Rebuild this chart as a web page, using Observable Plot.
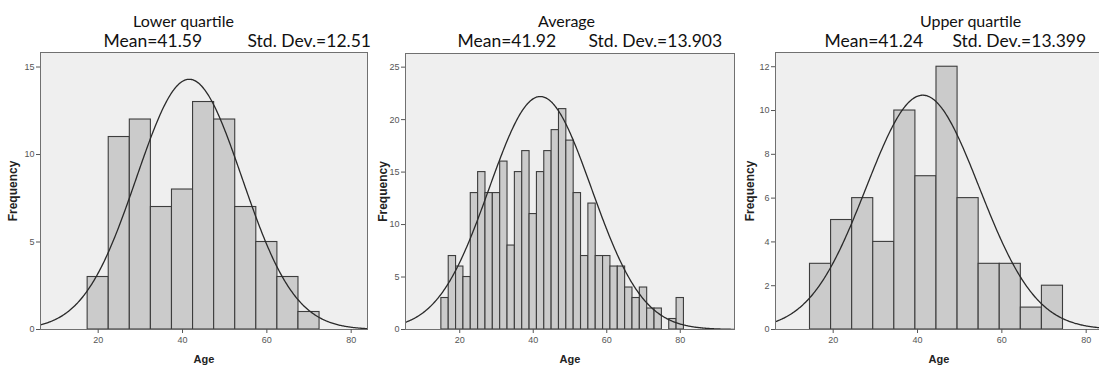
<!DOCTYPE html>
<html>
<head>
<meta charset="utf-8">
<script src="https://cdn.jsdelivr.net/npm/d3@7"></script>
<script src="https://cdn.jsdelivr.net/npm/@observablehq/plot@0.6"></script>
<style>
  html, body { margin: 0; padding: 0; background: #ffffff; }
  #page { position: relative; width: 1099px; height: 371px; overflow: hidden; background: #ffffff; }
  .panel { position: absolute; top: 0; }
  .panel svg { max-width: none !important; }
</style>
</head>
<body>
<div id="page"></div>
<script>
// Three age histograms with fitted normal curves.
const panelTitles = ["Lower quartile", "Average", "Upper quartile"];
const means = [41.59, 41.92, 41.24];
const stdDevs = [12.51, 13.903, 13.399];

// Frequencies per age bin
const lowerCounts = [3, 11, 12, 7, 8, 13, 12, 7, 5, 3, 1];
const averageCounts = [3, 7, 6, 5, 13, 15, 13, 13, 16, 8, 15, 17, 11, 15, 17, 19, 21,
                       18, 13, 7, 12, 7, 7, 6, 6, 4, 3, 4, 2, 2, 0, 1, 3];
const upperCounts = [3, 5, 6, 4, 10, 7, 12, 6, 3, 3, 1, 2];

// First bin edge and bin width for each histogram
const binStarts = [17.5, 15, 14.5];
const binWidths = [5, 2, 5];

// Height of the fitted normal curve at its peak
const curvePeaks = [14.3, 22.2, 10.7];

// Axis ticks and extents
const xTicks = [20, 40, 60, 80];
const lowerYTicks = [0, 5, 10, 15];
const averageYTicks = [0, 5, 10, 15, 20, 25];
const upperYTicks = [0, 2, 4, 6, 8, 10, 12];
const xDomains = [[6.32, 83.87], [5.24, 94.76], [6.32, 83.87]];
const yMaxes = [15.83, 26.3, 12.65];

const counts = [lowerCounts, averageCounts, upperCounts];
const yTicks = [lowerYTicks, averageYTicks, upperYTicks];

// Layout of each panel on the page
const layout = [
  {left: 0,   width: 370, marginLeft: 40, marginRight: 3, marginTop: 52, titleX: 183, meanX: 103, sdX: 247},
  {left: 370, width: 367, marginLeft: 35, marginRight: 3, marginTop: 53, titleX: 196, meanX: 87,  sdX: 218},
  {left: 737, width: 370, marginLeft: 38, marginRight: 5, marginTop: 52, titleX: 233, meanX: 87,  sdX: 215}
];

const titleFont = "Lato, 'Open Sans', sans-serif";
const axisFont = "'Liberation Sans', Arial, sans-serif";

function panel(i) {
  const L = layout[i];
  const [xmin, xmax] = xDomains[i];
  const bins = counts[i]
    .map((n, k) => ({x1: binStarts[i] + k * binWidths[i], x2: binStarts[i] + (k + 1) * binWidths[i], n}))
    .filter(d => d.n > 0);
  const mean = means[i], sd = stdDevs[i], peak = curvePeaks[i];
  const curve = d3.range(xmin, xmax + 0.001, 0.2)
    .map(x => ({x, y: peak * Math.exp(-0.5 * ((x - mean) / sd) ** 2)}));
  const H = 371, marginBottom = 42;
  const textTop = (x, y) => ({frameAnchor: "top-left", dx: x - L.marginLeft, dy: y - L.marginTop});

  return Plot.plot({
    width: L.width,
    height: H,
    marginLeft: L.marginLeft,
    marginRight: L.marginRight,
    marginTop: L.marginTop,
    marginBottom,
    style: {background: "transparent", overflow: "visible", fontFamily: axisFont, maxWidth: "none"},
    x: {domain: [xmin, xmax]},
    y: {domain: [0, yMaxes[i]]},
    marks: [
      Plot.frame({fill: "#efefef", stroke: null}),
      Plot.rectY(bins, {x1: "x1", x2: "x2", y: "n", inset: 0, fill: "#cbcbcb", stroke: "#3d3d3d", strokeWidth: 1.1}),
      Plot.line(curve, {x: "x", y: "y", stroke: "#2a2a2a", strokeWidth: 1.3, clip: true}),
      Plot.frame({stroke: "#707070", strokeWidth: 1}),
      Plot.axisX({ticks: xTicks, tickSize: 4, tickPadding: 3, fontSize: 9, color: "#555", label: null}),
      Plot.axisY({ticks: yTicks[i], tickSize: 4, tickPadding: 2, fontSize: 9, color: "#555", label: null}),
      // Axis titles
      Plot.text(["Age"], {frameAnchor: "bottom", dy: 30, lineAnchor: "middle", fontSize: 11, fontWeight: "bold", fill: "#222"}),
      Plot.text(["Frequency"], {frameAnchor: "left", dx: -(L.marginLeft - 13), rotate: -90, lineAnchor: "middle", textAnchor: "middle", fontSize: 12, fontWeight: "bold", fill: "#222"}),
      // Panel title and summary statistics
      Plot.text([panelTitles[i]], {...textTop(L.titleX, 26), textAnchor: "middle", lineAnchor: "bottom", fontSize: 16, fontFamily: titleFont, fill: "#111"}),
      Plot.text([`Mean=${mean}`], {...textTop(L.meanX, 46), textAnchor: "start", lineAnchor: "bottom", fontSize: 17.5, fontFamily: titleFont, fill: "#111"}),
      Plot.text([`Std. Dev.=${sd}`], {...textTop(L.sdX, 46), textAnchor: "start", lineAnchor: "bottom", fontSize: 17.5, fontFamily: titleFont, fill: "#111"})
    ]
  });
}

const page = document.getElementById("page");
layout.forEach((L, i) => {
  const div = document.createElement("div");
  div.className = "panel";
  div.style.left = L.left + "px";
  div.appendChild(panel(i));
  page.appendChild(div);
});
</script>
</body>
</html>
